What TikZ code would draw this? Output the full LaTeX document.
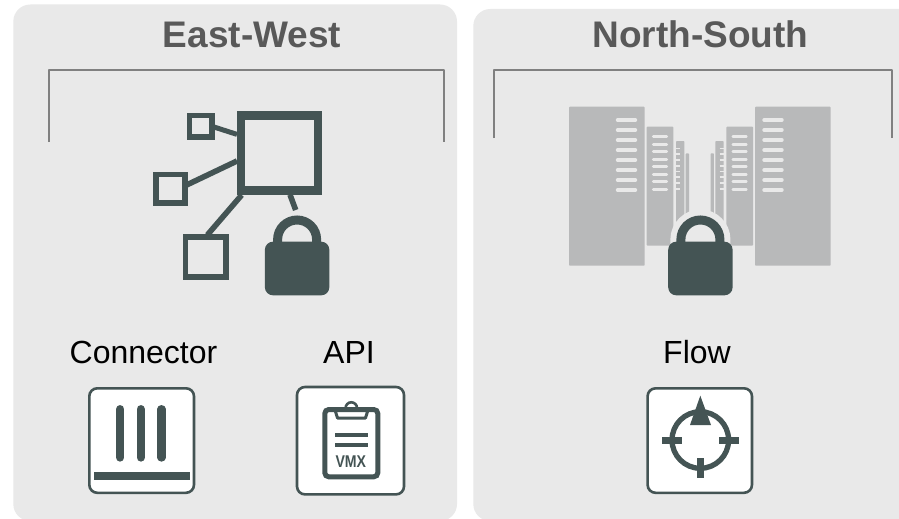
\documentclass[tikz,border=0pt]{standalone}
\usepackage{fontspec}
\setmainfont{Liberation Sans}
\definecolor{panelgray}{HTML}{E9E9E9}
\definecolor{slate}{HTML}{445454}
\definecolor{titlegray}{HTML}{595959}
\definecolor{bracketgray}{HTML}{808080}
\definecolor{rackgray}{HTML}{B8B9BA}
\tikzset{
  panel/.style={fill=panelgray,draw=none},
  bracketline/.style={draw=bracketgray,line width=2.8pt,line join=round},
  titletext/.style={font=\fontsize{37}{40}\selectfont\bfseries,text=titlegray,inner sep=0pt,anchor=base},
  labeltext/.style={font=\fontsize{32}{36}\selectfont,text=black,inner sep=0pt,anchor=base},
  iconbox/.style={draw=slate,fill=white,line width=2.6pt,rounded corners=8pt},
  netsquare/.style={draw=slate,line width=5.7pt,inner sep=0pt,fill=none},
  netlink/.style={draw=slate,line width=5.6pt},
  solidicon/.style={fill=slate,draw=none},
  rack/.style={fill=rackgray,draw=none,rounded corners=0.8pt},
  rackline/.style={draw=panelgray,line cap=round},
  shackle/.style={draw=slate,line width=9pt},
  halo/.style={draw=panelgray,line width=21pt},
  iconline/.style={draw=slate,line width=4pt},
}
\newcommand{\lockicon}[1]{%
  \draw[shackle] (#1-19.5,243) -- (#1-19.5,239.5) arc[start angle=180,end angle=360,radius=19.5] -- (#1+19.5,243);
  \fill[solidicon,rounded corners=8pt] (#1-32.2,241.7) rectangle (#1+32.2,295.3);
}
\begin{document}
\begin{tikzpicture}[x=1pt,y=-1pt]
\useasboundingbox (0,0) rectangle (899,519);
\fill[white] (0,0) rectangle (899,519);
% panels
\begin{scope}
\clip (0,0) rectangle (899,519);
\fill[panel,rounded corners=17pt] (13.3,4.5) rectangle (457,521);
\fill[panel,rounded corners=17pt] (473.3,9) -- (473.3,521) -- (930,521) -- (930,9) -- cycle;
\end{scope}
% titles
\node[titletext] (eastwest) at (252,47.5) {East-West};
\node[titletext] (northsouth) at (700.5,47.5) {North-South};
% brackets
\draw[bracketline] (49,142) -- (49,70) -- (444,70) -- (444,142);
\draw[bracketline] (494,138) -- (494,70) -- (892,70) -- (892,138);
% network icon
\node[draw=slate,line width=8.5pt,inner sep=0pt,minimum width=77pt,minimum height=75pt,anchor=center] (hub) at (279.4,152.8) {};
\node[netsquare,minimum width=22.4pt,minimum height=21.6pt] (leafa) at (200.7,126.4) {};
\node[netsquare,minimum width=29.2pt,minimum height=28.6pt] (leafb) at (170.5,188.9) {};
\node[netsquare,minimum width=40.6pt,minimum height=39.6pt] (leafc) at (205.9,257) {};
\coordinate (huba) at (237,134.4);
\coordinate (hubb) at (237,161);
\coordinate (hubc) at (241.7,195);
\coordinate (hubd) at (290,194.7);
\coordinate (lockend) at (295.7,210);
\coordinate (leafaend) at (214,127);
\coordinate (leafbend) at (187,184.8);
\coordinate (leafcend) at (207.3,235);
\draw[netlink,line width=5pt] (leafaend) -- (huba);
\draw[netlink] (leafbend) -- (hubb);
\draw[netlink] (leafcend) -- (hubc);
\draw[netlink] (hubd) -- (lockend);
\lockicon{297.1}
% server racks
\fill[rack] (569,106.7) rectangle (644.7,265.7);
\fill[rack] (646.7,126.7) rectangle (673.3,245.7);
\fill[rack] (676,141) rectangle (684.3,240);
\fill[rack] (685.7,153.3) rectangle (689,240);
\fill[rack] (755,106.7) rectangle (830.6,265.7);
\fill[rack] (726.3,126.7) rectangle (753,245.7);
\fill[rack] (715.3,141) rectangle (723.6,240);
\fill[rack] (710.6,153.3) rectangle (713.9,240);
\foreach \yy in {120,130,140,150,160,170,180,190}{
  \draw[rackline,line width=3.4pt] (617.5,\yy) -- (635.5,\yy);
  \draw[rackline,line width=3.4pt] (764,\yy) -- (782,\yy);
}
\foreach \yy in {136.7,144.2,151.7,159.2,166.7,174.2,181.7,189.2}{
  \draw[rackline,line width=2.6pt] (653.2,\yy) -- (666.8,\yy);
  \draw[rackline,line width=2.6pt] (732.8,\yy) -- (746.4,\yy);
}
\foreach \yy in {148.5,154.3,160,165.8,171.5,177.3,183,188.8}{
  \draw[draw=panelgray,line width=1.8pt] (676,\yy) -- (680,\yy);
  \draw[draw=panelgray,line width=1.8pt] (719.6,\yy) -- (723.6,\yy);
}
\draw[halo] (680.9,250) -- (680.9,239.5) arc[start angle=180,end angle=360,radius=19.5] -- (719.9,250);
\lockicon{700.4}
% labels
\node[labeltext] (connector) at (143.5,363.3) {Connector};
\node[labeltext] (api) at (349,363.3) {API};
\node[labeltext] (flow) at (697,363.3) {Flow};
% connector box
\draw[iconbox] (89.3,388.3) rectangle (194,492.8);
\foreach \xx in {120.2,140.8,161.5}{
  \draw[draw=slate,line width=8.3pt,line cap=round] (\xx,409.2) -- (\xx,457.5);
}
\fill[solidicon] (94,472) rectangle (190,480);
% api box
\draw[iconbox] (297,387) rectangle (404,494.4);
\draw[draw=slate,line width=2.6pt,fill=none] (345.6,408) arc[start angle=180,end angle=360,radius=5.7];
\draw[draw=slate,line width=5pt,rounded corners=4pt,fill=white] (324.8,409.5) rectangle (377.8,476.8);
\draw[draw=slate,line width=3pt,line join=round,fill=none] (335,410) -- (337.5,418) -- (365.5,418) -- (368,410);
\draw[iconline] (335,435) -- (367.7,435);
\draw[iconline] (335,444.7) -- (367.7,444.7);
\node[inner sep=0pt,anchor=base,text=slate,xscale=0.83,font=\fontsize{17}{20}\selectfont\bfseries] (vmx) at (350.8,467.3) {VMX};
% flow box
\draw[iconbox] (647.6,388.3) rectangle (752,492.8);
\draw[draw=slate,line width=5.3pt] (700.3,440) circle[radius=28.3];
\fill[solidicon] (662,437.3) rectangle (682.3,444);
\fill[solidicon] (719.3,437.3) rectangle (739.3,444);
\fill[solidicon] (697,458.3) rectangle (703.7,478.3);
\fill[solidicon] (700.3,395.7) -- (711,425) -- (690,425) -- cycle;
\end{tikzpicture}
\end{document}
